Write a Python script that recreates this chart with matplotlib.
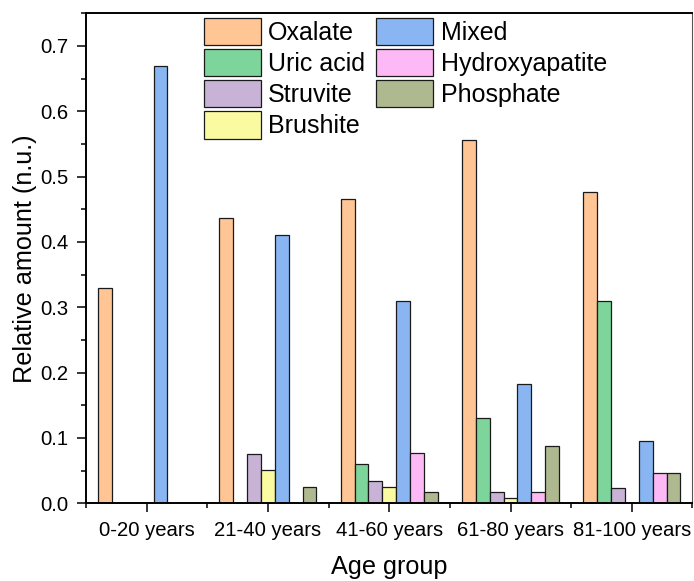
import numpy as np
import matplotlib.pyplot as plt
from matplotlib.ticker import MultipleLocator, FixedLocator

plt.rcParams['font.family'] = ['Liberation Sans', 'DejaVu Sans']

groups = ['0-20 years', '21-40 years', '41-60 years', '61-80 years', '81-100 years']
stone_types = ['Oxalate', 'Uric acid', 'Struvite', 'Brushite',
               'Mixed', 'Hydroxyapatite', 'Phosphate']

oxalate = [0.33, 0.436, 0.466, 0.556, 0.476]
uric_acid = [0.0, 0.0, 0.060, 0.130, 0.309]
struvite = [0.0, 0.076, 0.034, 0.017, 0.023]
brushite = [0.0, 0.051, 0.025, 0.008, 0.0]
mixed = [0.67, 0.41, 0.31, 0.182, 0.095]
hydroxyapatite = [0.0, 0.0, 0.077, 0.017, 0.047]
phosphate = [0.0, 0.025, 0.017, 0.087, 0.047]

series = [oxalate, uric_acid, struvite, brushite, mixed, hydroxyapatite, phosphate]
colors = ['#FFC594', '#7DD59B', '#C8B3D7', '#FAFBA0',
          '#89B6F3', '#FDB9F5', '#AEB990']

fig = plt.figure(figsize=(6.94, 5.81), dpi=100)
ax = fig.add_axes([86 / 694, 1 - 503.3 / 581, 606.5 / 694, 490 / 581])

x = np.arange(len(groups))
n = len(series)
w = 0.8 / n
for i, (vals, c, name) in enumerate(zip(series, colors, stone_types)):
    ax.bar(x + (i - 3) * w, vals, width=w, color=c, edgecolor='#1a1a1a',
           linewidth=0.9, label=name)

ax.set_xlim(-0.5, 4.5)
ax.set_ylim(0, 0.75)
ax.set_xticks(x)
ax.set_xticklabels(groups)
ax.xaxis.set_minor_locator(FixedLocator(np.arange(-0.5, 4.6, 1.0)))
ax.yaxis.set_major_locator(MultipleLocator(0.1))
ax.yaxis.set_minor_locator(MultipleLocator(0.05))
ax.yaxis.set_major_formatter(plt.FormatStrFormatter('%.1f'))

ax.tick_params(which='major', direction='out', length=6.5, width=1.1,
               labelsize=14.6, pad=6, top=False, right=False)
ax.tick_params(which='minor', direction='out', length=3.6, width=1.1,
               top=False, right=False)
for side in ['left', 'bottom', 'top']:
    ax.spines[side].set_linewidth(1.4)
ax.spines['right'].set_linewidth(0.8)
ax.spines['right'].set_color('#555555')

ax.set_xlabel('Age group', fontsize=18.2, labelpad=11)
ax.set_ylabel('Relative amount (n.u.)', fontsize=18.2, labelpad=2.5)

fig.legend(loc='upper left', bbox_to_anchor=(191 / 694, 1 - 5 / 581),
           ncol=2, frameon=False, fontsize=18, borderpad=0,
           handlelength=2.28, handleheight=1.3, handletextpad=0.3,
           labelspacing=0.16, columnspacing=0.45)

fig.savefig('out.png', dpi=100)
